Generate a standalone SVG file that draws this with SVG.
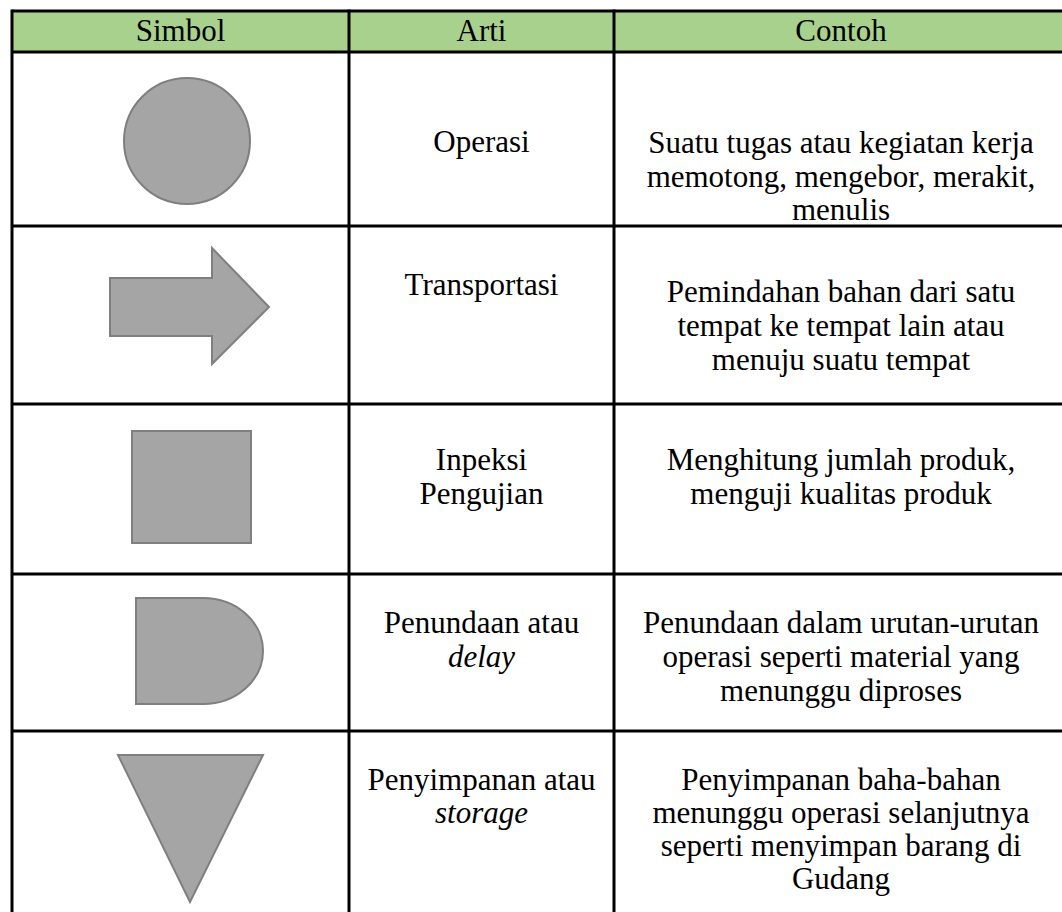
<svg xmlns="http://www.w3.org/2000/svg" width="1062" height="912" viewBox="0 0 1062 912">
<style>
text{font-family:'Liberation Serif','Times New Roman',Times,serif;font-size:31px;fill:#000;text-anchor:middle}
.i{font-style:italic}
.sym{fill:#a5a5a5;stroke:#7f7f7f;stroke-width:2;stroke-linejoin:miter}
.grid{stroke:#000;stroke-width:3;fill:none}
</style>
<rect x="0" y="0" width="1062" height="912" fill="#fff"/>
<g id="header">
<rect x="12" y="11" width="1060" height="41" fill="#a9d18e"/>
<text x="180.5" y="41">Simbol</text>
<text x="481.5" y="41">Arti</text>
<text x="841" y="41">Contoh</text>
</g>
<g id="row-operasi">
<circle class="sym" cx="187" cy="141" r="63"/>
<text x="481.5" y="152">Operasi</text>
<text x="841" y="153">Suatu tugas atau kegiatan kerja</text>
<text x="841" y="187">memotong, mengebor, merakit,</text>
<text x="841" y="220">menulis</text>
</g>
<g id="row-transportasi">
<polygon class="sym" points="110,278 212,278 212,248 269,307 212,364 212,336 110,336"/>
<text x="481.5" y="295">Transportasi</text>
<text x="841" y="302">Pemindahan bahan dari satu</text>
<text x="841" y="336">tempat ke tempat lain atau</text>
<text x="841" y="370">menuju suatu tempat</text>
</g>
<g id="row-inspeksi">
<rect class="sym" x="132" y="431" width="119" height="112"/>
<text x="481.5" y="470">Inpeksi</text>
<text x="481.5" y="504">Pengujian</text>
<text x="841" y="470">Menghitung jumlah produk,</text>
<text x="841" y="504">menguji kualitas produk</text>
</g>
<g id="row-delay">
<path class="sym" d="M136,598 H203 A60,53 0 0 1 203,704 H136 Z"/>
<text x="481.5" y="633">Penundaan atau</text>
<text class="i" x="481.5" y="667">delay</text>
<text x="841" y="633">Penundaan dalam urutan-urutan</text>
<text x="841" y="667">operasi seperti material yang</text>
<text x="841" y="701">menunggu diproses</text>
</g>
<g id="row-storage">
<polygon class="sym" points="118,755 263,755 190,902"/>
<text x="481.5" y="790">Penyimpanan atau</text>
<text class="i" x="481.5" y="823">storage</text>
<text x="841" y="790">Penyimpanan baha-bahan</text>
<text x="841" y="823">menunggu operasi selanjutnya</text>
<text x="841" y="856">seperti menyimpan barang di</text>
<text x="841" y="889">Gudang</text>
</g>
<g id="grid" class="grid">
<line x1="12" y1="11" x2="1070" y2="11"/>
<line x1="12" y1="52" x2="1070" y2="52"/>
<line x1="12" y1="226" x2="1070" y2="226"/>
<line x1="12" y1="404" x2="1070" y2="404"/>
<line x1="12" y1="574" x2="1070" y2="574"/>
<line x1="12" y1="731" x2="1070" y2="731"/>
<line x1="12" y1="9.5" x2="12" y2="920"/>
<line x1="349" y1="9.5" x2="349" y2="920"/>
<line x1="614" y1="9.5" x2="614" y2="920"/>
</g>
</svg>
